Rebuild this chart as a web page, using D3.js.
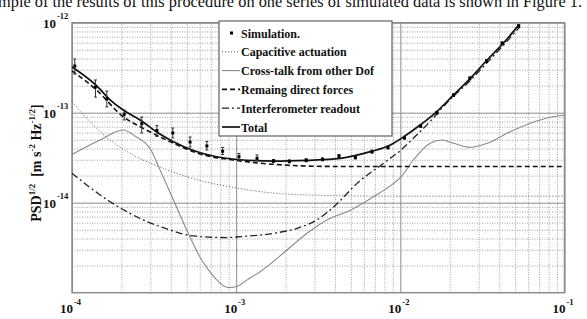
<!DOCTYPE html>
<html>
<head>
<meta charset="utf-8">
<script src="https://cdn.jsdelivr.net/npm/d3@7"></script>
<style>
  body { margin: 0; background: #fff; }
  svg { display: block; font-family: 'Liberation Serif', 'Times New Roman', serif; }
  .grid path { display: none; }
  .grid line { stroke: #a0a0a0; stroke-width: 1; }
  .grid.minor line { stroke-dasharray: 1,1.5; }
  .grid.major line { stroke: #8c8c8c; }
  .ticklabel { font-weight: bold; fill: #111; }
  .legend text { font-weight: bold; font-size: 12px; fill: #111; }
</style>
</head>
<body>
<svg id="chart" width="587" height="319"></svg>
<script>
// values (frequency in Hz, PSD^1/2)
const totalF = [1.0e-4, 1.41e-4, 1.7e-4, 2.05e-4, 2.6e-4, 3.28e-4, 4.15e-4, 5.6e-4, 7.6e-4, 1.01e-3, 1.69e-3, 2.7e-3, 4.3e-3, 6.56e-3, 8.7e-3, 1.05e-2, 1.32e-2, 1.67e-2, 2.11e-2, 2.67e-2, 3.38e-2, 4.27e-2, 5.26e-2]
const totalV = [3.22e-13, 2.0e-13, 1.4e-13, 1.07e-13, 8.3e-14, 6.1e-14, 4.76e-14, 3.75e-14, 3.24e-14, 3.02e-14, 2.9e-14, 2.96e-14, 3.11e-14, 3.69e-14, 4.38e-14, 5.41e-14, 7.3e-14, 1.03e-13, 1.58e-13, 2.41e-13, 3.85e-13, 6.0e-13, 9.4e-13]

const directF = [1e-4, 1.41e-4, 2.05e-4, 2.72e-4, 4.13e-4, 6.0e-4, 9.6e-4, 1.69e-3, 3.7e-3, 1e-2, 1e-1]
const directV = [2.91e-13, 1.79e-13, 9.0e-14, 6.7e-14, 4.6e-14, 3.48e-14, 2.98e-14, 2.67e-14, 2.53e-14, 2.52e-14, 2.52e-14]

const capF = [1e-4, 1.29e-4, 1.7e-4, 2.48e-4, 3.44e-4, 5.6e-4, 1e-3, 1.67e-3, 2.7e-3, 5e-3, 1e-2, 1e-1]
const capV = [1.33e-13, 7.9e-14, 5.0e-14, 3.22e-14, 2.49e-14, 1.83e-14, 1.46e-14, 1.28e-14, 1.22e-14, 1.19e-14, 1.18e-14, 1.18e-14]

const crossF = [1e-4, 1.48e-4, 2.05e-4, 2.42e-4, 3.0e-4, 3.44e-4, 4.15e-4, 5.0e-4, 6.0e-4, 7.3e-4, 8.4e-4, 9.2e-4, 1.01e-3, 1.16e-3, 1.4e-3, 1.54e-3, 2.04e-3, 2.7e-3, 3.57e-3, 5e-3, 6.9e-3, 9.1e-3, 1e-2, 1.2e-2, 1.52e-2, 1.8e-2, 2.11e-2, 2.67e-2, 3.38e-2, 4.47e-2, 6.2e-2, 8.2e-2, 1e-1]
const crossV = [3.43e-14, 4.97e-14, 6.43e-14, 5.5e-14, 3.95e-14, 2.31e-14, 1.07e-14, 4.97e-15, 2.51e-15, 1.51e-15, 1.19e-15, 1.14e-15, 1.17e-15, 1.38e-15, 1.71e-15, 1.95e-15, 2.98e-15, 4.57e-15, 6.43e-15, 8.3e-15, 1.17e-14, 1.64e-14, 1.9e-14, 2.98e-14, 4.57e-14, 4.97e-14, 4.57e-14, 4.13e-14, 4.57e-14, 5.9e-14, 7.62e-14, 8.89e-14, 9.43e-14]

const readF = [1e-4, 1.7e-4, 2.72e-4, 3.96e-4, 5.5e-4, 8.8e-4, 1.06e-3, 1.69e-3, 2.35e-3, 3.1e-3, 4.1e-3, 5.45e-3, 7.9e-3, 1e-2, 1.2e-2, 1.52e-2, 1.93e-2, 2.67e-2, 3.38e-2, 4.26e-2, 5.32e-2]
const readV = [2.12e-14, 1.03e-14, 6.43e-15, 4.97e-15, 4.27e-15, 4.1e-15, 4.19e-15, 4.57e-15, 5.19e-15, 6.43e-15, 9.67e-15, 1.64e-14, 2.74e-14, 3.8e-14, 5.2e-14, 8.0e-14, 1.3e-13, 2.28e-13, 3.6e-13, 5.65e-13, 8.9e-13]

const simF = [1.04e-4, 1.39e-4, 1.63e-4, 2.08e-4, 2.66e-4, 3.29e-4, 4.11e-4, 5.24e-4, 6.63e-4, 8.27e-4, 1.04e-3, 1.34e-3, 1.69e-3, 2.11e-3, 2.67e-3, 3.36e-3, 4.23e-3, 5.32e-3, 6.72e-3, 8.41e-3, 1.06e-2, 1.33e-2, 1.67e-2, 2.11e-2, 2.65e-2, 3.35e-2, 4.17e-2, 5.26e-2]
const simV = [3.30e-13, 1.93e-13, 1.42e-13, 9.60e-14, 7.54e-14, 6.34e-14, 5.95e-14, 4.72e-14, 4.27e-14, 3.73e-14, 3.24e-14, 3.11e-14, 2.91e-14, 2.88e-14, 2.96e-14, 3.03e-14, 3.30e-14, 3.18e-14, 3.69e-14, 4.11e-14, 5.27e-14, 7.12e-14, 1.00e-13, 1.57e-13, 2.41e-13, 3.75e-13, 5.90e-13, 9.19e-13]
const simHi = [3.95e-13, 2.31e-13, 1.74e-13, 1.07e-13, 8.96e-14, 7.21e-14, 6.76e-14, 5.37e-14, 4.79e-14, 4.11e-14, 3.52e-14, 3.39e-14, 3.02e-14, 2.99e-14, 3.08e-14, 3.15e-14, 3.43e-14, 3.31e-14, 3.84e-14, 4.27e-14, 5.48e-14, 7.40e-14, 1.04e-13, 1.63e-13, 2.50e-13, 3.90e-13, 6.13e-13, 9.55e-13]
const simLo = [2.69e-13, 1.49e-13, 1.16e-13, 8.30e-14, 5.95e-14, 5.44e-14, 5.24e-14, 4.16e-14, 3.85e-14, 3.43e-14, 3.02e-14, 2.94e-14, 2.80e-14, 2.77e-14, 2.85e-14, 2.92e-14, 3.18e-14, 3.06e-14, 3.55e-14, 3.95e-14, 5.07e-14, 6.85e-14, 0.96e-13, 1.51e-13, 2.32e-13, 3.61e-13, 5.68e-13, 8.84e-13]

const xMajor = [1e-4, 1e-3, 1e-2, 1e-1]
const xExp = ['-4', '-3', '-2', '-1']
const yMajor = [1e-12, 1e-13, 1e-14]
const yExp = ['-12', '-13', '-14']

const legendLabels = ['Simulation.', 'Capacitive actuation', 'Cross-talk from other Dof', 'Remaing direct forces', 'Interferometer readout', 'Total']

const caption = 'mple of the results of this procedure on one series of simulated data is shown in Figure 1.'

const svg = d3.select('#chart')

const x = d3.scaleLog().domain([1e-4, 1e-1]).range([72, 564.5])
const y = d3.scaleLog().domain([1e-15, 1e-12]).range([292.7, 22.7])
const plotH = y.range()[0] - y.range()[1]
const plotW = x.range()[1] - x.range()[0]

// caption, cut off by the top of the page like in the scan
svg.append('text')
  .attr('x', -2)
  .attr('y', 7)
  .attr('font-size', '17px')
  .attr('textLength', 584)
  .attr('lengthAdjust', 'spacingAndGlyphs')
  .attr('fill', '#111')
  .text(caption)

// GRID
const isDecade = v => Math.abs(Math.log10(v) - Math.round(Math.log10(v))) < 1e-6
const xMinor = x.ticks().filter(v => !isDecade(v))
const yMinor = y.ticks().filter(v => !isDecade(v))

svg.append('g')
  .attr('class', 'grid minor')
  .attr('transform', `translate(0, ${y.range()[0]})`)
  .call(d3.axisBottom(x).tickValues(xMinor).tickSize(-plotH).tickFormat(''))

svg.append('g')
  .attr('class', 'grid minor')
  .attr('transform', `translate(${x.range()[0]}, 0)`)
  .call(d3.axisLeft(y).tickValues(yMinor).tickSize(-plotW).tickFormat(''))

svg.append('g')
  .attr('class', 'grid major')
  .attr('transform', `translate(0, ${y.range()[0]})`)
  .call(d3.axisBottom(x).tickValues(xMajor).tickSize(-plotH).tickFormat(''))

svg.append('g')
  .attr('class', 'grid major')
  .attr('transform', `translate(${x.range()[0]}, 0)`)
  .call(d3.axisLeft(y).tickValues(yMajor).tickSize(-plotW).tickFormat(''))

svg.selectAll('.grid .tick text').remove()

svg.append('rect')
  .attr('x', x.range()[0])
  .attr('y', y.range()[1])
  .attr('width', plotW)
  .attr('height', plotH)
  .attr('fill', 'none')
  .attr('stroke', '#8c8c8c')
  .attr('stroke-width', 1.5)

// TICK LABELS
const xl = svg.append('g').selectAll('g')
  .data(xMajor)
  .enter()
  .append('g')
  .attr('class', 'ticklabel')
xl.append('text')
  .attr('x', d => x(d) + 1)
  .attr('y', 313)
  .attr('text-anchor', 'end')
  .attr('font-size', '13px')
  .text('10')
xl.append('text')
  .attr('x', d => x(d) + 2)
  .attr('y', 305)
  .attr('font-size', '8.5px')
  .text((d, i) => xExp[i])

const yl = svg.append('g').selectAll('g')
  .data(yMajor)
  .enter()
  .append('g')
  .attr('class', 'ticklabel')
yl.append('text')
  .attr('x', 56)
  .attr('y', d => y(d) + 5.5)
  .attr('text-anchor', 'end')
  .attr('font-size', '13px')
  .text('10')
yl.append('text')
  .attr('x', 57)
  .attr('y', d => y(d) - 4)
  .attr('font-size', '8.5px')
  .text((d, i) => yExp[i])

// y axis title
const yt = svg.append('text')
  .attr('class', 'ticklabel')
  .attr('transform', 'translate(41, 163) rotate(-90)')
  .attr('text-anchor', 'middle')
  .attr('font-size', '14px')
yt.append('tspan').text('PSD')
yt.append('tspan').attr('font-size', '9px').attr('dy', -6).text('1/2')
yt.append('tspan').attr('dy', 6).text('\u00a0\u00a0[m s')
yt.append('tspan').attr('font-size', '9px').attr('dy', -6).text('-2')
yt.append('tspan').attr('dy', 6).text(' Hz')
yt.append('tspan').attr('font-size', '9px').attr('dy', -6).text('-1/2')
yt.append('tspan').attr('dy', 6).text(']')

// CURVES
const line = d3.line()
  .x(d => x(d[0]))
  .y(d => y(d[1]))
  .curve(d3.curveMonotoneX)

const curves = [
  { f: capF, v: capV, stroke: '#555', width: 1, dash: '1,2' },
  { f: crossF, v: crossV, stroke: '#8a8a8a', width: 1.1, dash: null },
  { f: readF, v: readV, stroke: '#222', width: 1.3, dash: '7,3,2,3' },
  { f: directF, v: directV, stroke: '#111', width: 1.6, dash: '5,3' },
  { f: totalF, v: totalV, stroke: '#111', width: 1.7, dash: null }
]

svg.append('g').selectAll('path')
  .data(curves)
  .enter()
  .append('path')
  .attr('d', d => line(d.f.map((f, i) => [f, d.v[i]])))
  .attr('fill', 'none')
  .attr('stroke', d => d.stroke)
  .attr('stroke-width', d => d.width)
  .attr('stroke-dasharray', d => d.dash)

// SIMULATION POINTS
const sim = svg.append('g').selectAll('g')
  .data(simF.map((f, i) => ({ f: f, v: simV[i], hi: simHi[i], lo: simLo[i] })))
  .enter()
  .append('g')
sim.append('line')
  .attr('x1', d => x(d.f)).attr('x2', d => x(d.f))
  .attr('y1', d => y(d.hi)).attr('y2', d => y(d.lo))
  .attr('stroke', '#333').attr('stroke-width', 1)
sim.append('line')
  .attr('x1', d => x(d.f) - 1.5).attr('x2', d => x(d.f) + 1.5)
  .attr('y1', d => y(d.hi)).attr('y2', d => y(d.hi))
  .attr('stroke', '#333').attr('stroke-width', 1)
sim.append('line')
  .attr('x1', d => x(d.f) - 1.5).attr('x2', d => x(d.f) + 1.5)
  .attr('y1', d => y(d.lo)).attr('y2', d => y(d.lo))
  .attr('stroke', '#333').attr('stroke-width', 1)
sim.append('rect')
  .attr('x', d => x(d.f) - 1.5)
  .attr('y', d => y(d.v) - 1.5)
  .attr('width', 3)
  .attr('height', 3)
  .attr('fill', '#000')

// LEGEND
const lg = svg.append('g').attr('class', 'legend')
lg.append('rect')
  .attr('x', 219).attr('y', 21)
  .attr('width', 173).attr('height', 115)
  .attr('fill', '#fff')
  .attr('stroke', '#6e6e6e')
  .attr('stroke-width', 1.3)

const legendStyle = [null, curves[0], curves[1], curves[3], curves[2], curves[4]]
const rowY = d3.scaleLinear().domain([0, 5]).range([33, 127])

const rows = lg.selectAll('g.row')
  .data(legendLabels)
  .enter()
  .append('g')
  .attr('class', 'row')
  .attr('transform', (d, i) => `translate(0, ${rowY(i)})`)

rows.append('text')
  .attr('x', 241)
  .attr('y', 4.5)
  .text(d => d)

rows.filter((d, i) => i > 0)
  .append('line')
  .attr('x1', 222).attr('x2', 240)
  .attr('y1', 0).attr('y2', 0)
  .attr('stroke', (d, i) => legendStyle[i + 1].stroke)
  .attr('stroke-width', (d, i) => legendStyle[i + 1].width)
  .attr('stroke-dasharray', (d, i) => legendStyle[i + 1].dash)

rows.filter((d, i) => i === 0)
  .append('rect')
  .attr('x', 230).attr('y', -1.5)
  .attr('width', 3).attr('height', 3)
  .attr('fill', '#000')
</script>
</body>
</html>
